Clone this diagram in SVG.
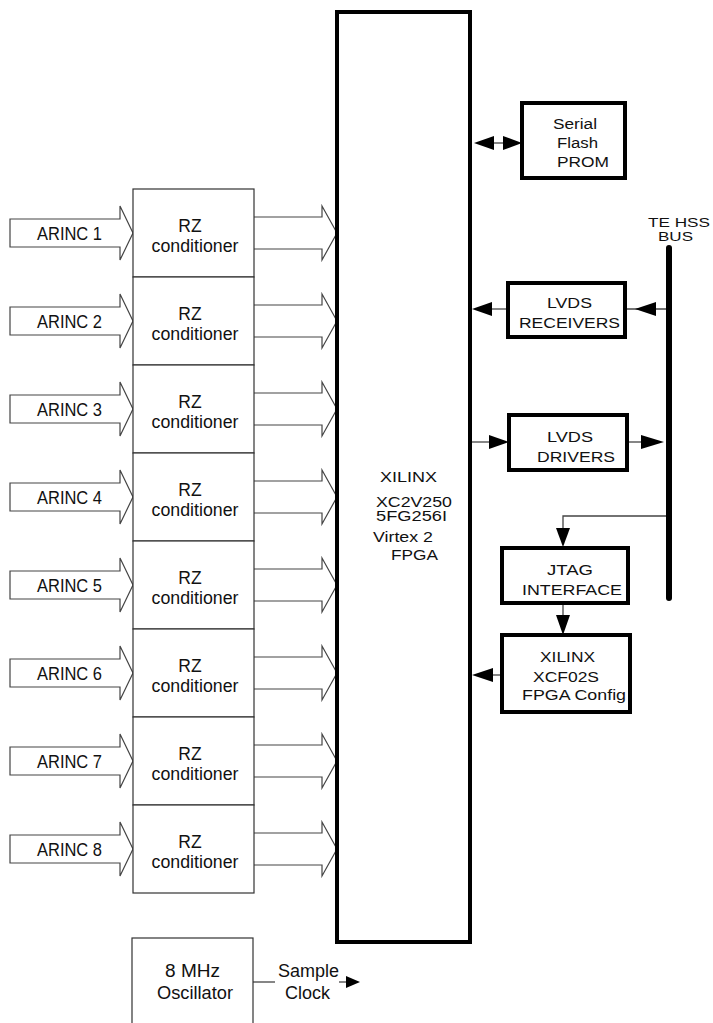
<svg xmlns="http://www.w3.org/2000/svg" width="713" height="1023" viewBox="0 0 713 1023">
<style>
text{font-family:"Liberation Sans",Arial,sans-serif;fill:#111}
.rz{fill:#fff;stroke:#333;stroke-width:1.2}
.bus{fill:none;stroke:#444;stroke-width:1.2}
.thick{fill:#fff;stroke:#000;stroke-width:4}
.ln{fill:none;stroke:#444;stroke-width:1.3}
.ah{fill:#000;stroke:none}
.t17{font-size:17.5px}
.t14{font-size:14px}
.t13{font-size:12.5px}
</style>
<defs>
<path id="inArrow" d="M10,-14 H120 V-27 L133,0 L120,27 V14 H10 Z"/>
<path id="outArrow" d="M254,-16 H322 V-27 L337,0 L322,27 V16 H254"/>
</defs>
<g id="connectors">
<g id="arinc-arrows" class="bus">
<use href="#inArrow" y="233"/><use href="#inArrow" y="321"/><use href="#inArrow" y="409"/><use href="#inArrow" y="497"/>
<use href="#inArrow" y="585"/><use href="#inArrow" y="673"/><use href="#inArrow" y="761"/><use href="#inArrow" y="849"/>
</g>
<g id="rz-out-arrows" class="bus">
<use href="#outArrow" y="233"/><use href="#outArrow" y="321"/><use href="#outArrow" y="409"/><use href="#outArrow" y="497"/>
<use href="#outArrow" y="585"/><use href="#outArrow" y="673"/><use href="#outArrow" y="761"/><use href="#outArrow" y="849"/>
</g>
<g id="prom-link">
<line class="ln" x1="490" y1="143" x2="506" y2="143"/>
<path class="ah" d="M474,143 L494,136 L494,150 Z"/>
<path class="ah" d="M522,143 L503,136 L503,150 Z"/>
</g>
<g id="receivers-links">
<line class="ln" x1="480" y1="309" x2="508" y2="309"/>
<path class="ah" d="M472,309 L492,302 L492,316 Z"/>
<line class="ln" x1="625" y1="309" x2="669" y2="309"/>
<path class="ah" d="M635,309 L656,302 L656,316 Z"/>
</g>
<g id="drivers-links">
<line class="ln" x1="470" y1="442" x2="500" y2="442"/>
<path class="ah" d="M509,442 L489,435 L489,449 Z"/>
<line class="ln" x1="627" y1="442" x2="650" y2="442"/>
<path class="ah" d="M664,442 L641,435 L641,449 Z"/>
</g>
<g id="jtag-links">
<path class="ln" d="M666,516 H563 V535" stroke="#666"/>
<path class="ah" d="M563,547 L556,528 L570,528 Z"/>
<line class="ln" x1="563" y1="603" x2="563" y2="620"/>
<path class="ah" d="M563,635 L556,615 L570,615 Z"/>
</g>
<g id="config-link">
<line class="ln" x1="485" y1="675" x2="502" y2="675"/>
<path class="ah" d="M472,675 L493,668 L493,682 Z"/>
</g>
<g id="clock-link">
<line class="ln" x1="253" y1="982" x2="275" y2="982"/>
<line class="ln" x1="339" y1="982" x2="350" y2="982"/>
<path class="ah" d="M360,982 L346,976 L346,988 Z"/>
</g>
</g>
<g id="bus">
<line x1="669" y1="248" x2="669" y2="598" stroke="#000" stroke-width="6" stroke-linecap="round"/>
<text class="t13" x="648" y="227" textLength="62" lengthAdjust="spacingAndGlyphs">TE HSS</text>
<text class="t13" x="658" y="241" textLength="35" lengthAdjust="spacingAndGlyphs">BUS</text>
</g>
<g id="fpga">
<rect class="thick" x="337" y="12" width="133" height="930" fill="none"/>
<text class="t14" x="380" y="482" textLength="57" lengthAdjust="spacingAndGlyphs">XILINX</text>
<text class="t14" x="376" y="507" textLength="76" lengthAdjust="spacingAndGlyphs">XC2V250</text>
<text class="t14" x="376" y="521" textLength="71" lengthAdjust="spacingAndGlyphs">5FG256I</text>
<text class="t14" x="373" y="542" textLength="60" lengthAdjust="spacingAndGlyphs">Virtex 2</text>
<text class="t14" x="391" y="560" textLength="47" lengthAdjust="spacingAndGlyphs">FPGA</text>
</g>
<g id="rz-blocks">
<g id="rz1"><rect class="rz" x="133" y="189" width="121" height="88"/><text class="t17" x="190" y="232" text-anchor="middle">RZ</text><text class="t17" x="195" y="252" text-anchor="middle" textLength="87" lengthAdjust="spacingAndGlyphs">conditioner</text></g>
<g id="rz2"><rect class="rz" x="133" y="277" width="121" height="88"/><text class="t17" x="190" y="320" text-anchor="middle">RZ</text><text class="t17" x="195" y="340" text-anchor="middle" textLength="87" lengthAdjust="spacingAndGlyphs">conditioner</text></g>
<g id="rz3"><rect class="rz" x="133" y="365" width="121" height="88"/><text class="t17" x="190" y="408" text-anchor="middle">RZ</text><text class="t17" x="195" y="428" text-anchor="middle" textLength="87" lengthAdjust="spacingAndGlyphs">conditioner</text></g>
<g id="rz4"><rect class="rz" x="133" y="453" width="121" height="88"/><text class="t17" x="190" y="496" text-anchor="middle">RZ</text><text class="t17" x="195" y="516" text-anchor="middle" textLength="87" lengthAdjust="spacingAndGlyphs">conditioner</text></g>
<g id="rz5"><rect class="rz" x="133" y="541" width="121" height="88"/><text class="t17" x="190" y="584" text-anchor="middle">RZ</text><text class="t17" x="195" y="604" text-anchor="middle" textLength="87" lengthAdjust="spacingAndGlyphs">conditioner</text></g>
<g id="rz6"><rect class="rz" x="133" y="629" width="121" height="88"/><text class="t17" x="190" y="672" text-anchor="middle">RZ</text><text class="t17" x="195" y="692" text-anchor="middle" textLength="87" lengthAdjust="spacingAndGlyphs">conditioner</text></g>
<g id="rz7"><rect class="rz" x="133" y="717" width="121" height="88"/><text class="t17" x="190" y="760" text-anchor="middle">RZ</text><text class="t17" x="195" y="780" text-anchor="middle" textLength="87" lengthAdjust="spacingAndGlyphs">conditioner</text></g>
<g id="rz8"><rect class="rz" x="133" y="805" width="121" height="88"/><text class="t17" x="190" y="848" text-anchor="middle">RZ</text><text class="t17" x="195" y="868" text-anchor="middle" textLength="87" lengthAdjust="spacingAndGlyphs">conditioner</text></g>
</g>
<g id="arinc-labels">
<text class="t17" x="37" y="240" textLength="65" lengthAdjust="spacingAndGlyphs">ARINC 1</text>
<text class="t17" x="37" y="328" textLength="65" lengthAdjust="spacingAndGlyphs">ARINC 2</text>
<text class="t17" x="37" y="416" textLength="65" lengthAdjust="spacingAndGlyphs">ARINC 3</text>
<text class="t17" x="37" y="504" textLength="65" lengthAdjust="spacingAndGlyphs">ARINC 4</text>
<text class="t17" x="37" y="592" textLength="65" lengthAdjust="spacingAndGlyphs">ARINC 5</text>
<text class="t17" x="37" y="680" textLength="65" lengthAdjust="spacingAndGlyphs">ARINC 6</text>
<text class="t17" x="37" y="768" textLength="65" lengthAdjust="spacingAndGlyphs">ARINC 7</text>
<text class="t17" x="37" y="856" textLength="65" lengthAdjust="spacingAndGlyphs">ARINC 8</text>
</g>
<g id="serial-prom">
<rect class="thick" x="522" y="103" width="103" height="75"/>
<text class="t14" x="553" y="129" textLength="44" lengthAdjust="spacingAndGlyphs">Serial</text>
<text class="t14" x="557" y="148" textLength="41" lengthAdjust="spacingAndGlyphs">Flash</text>
<text class="t14" x="557" y="167" textLength="52" lengthAdjust="spacingAndGlyphs">PROM</text>
</g>
<g id="lvds-receivers">
<rect class="thick" x="508" y="283" width="117" height="54"/>
<text class="t14" x="547" y="308" textLength="45" lengthAdjust="spacingAndGlyphs">LVDS</text>
<text class="t14" x="519" y="328" textLength="101" lengthAdjust="spacingAndGlyphs">RECEIVERS</text>
</g>
<g id="lvds-drivers">
<rect class="thick" x="509" y="415" width="118" height="55"/>
<text class="t14" x="547" y="442" textLength="46" lengthAdjust="spacingAndGlyphs">LVDS</text>
<text class="t14" x="537" y="462" textLength="78" lengthAdjust="spacingAndGlyphs">DRIVERS</text>
</g>
<g id="jtag">
<rect class="thick" x="502" y="548" width="126" height="55"/>
<text class="t14" x="547" y="575" textLength="46" lengthAdjust="spacingAndGlyphs">JTAG</text>
<text class="t14" x="522" y="595" textLength="100" lengthAdjust="spacingAndGlyphs">INTERFACE</text>
</g>
<g id="xcf02s">
<rect class="thick" x="502" y="635" width="128" height="77"/>
<text class="t14" x="540" y="662" textLength="55" lengthAdjust="spacingAndGlyphs">XILINX</text>
<text class="t14" x="533" y="682" textLength="66" lengthAdjust="spacingAndGlyphs">XCF02S</text>
<text class="t14" x="522" y="700" textLength="104" lengthAdjust="spacingAndGlyphs">FPGA Config</text>
</g>
<g id="oscillator">
<rect class="rz" x="132" y="938" width="121" height="95"/>
<text class="t17" x="165" y="977" textLength="55" lengthAdjust="spacingAndGlyphs">8 MHz</text>
<text class="t17" x="157" y="999" textLength="76" lengthAdjust="spacingAndGlyphs">Oscillator</text>
<text class="t17" x="278" y="977" textLength="61" lengthAdjust="spacingAndGlyphs">Sample</text>
<text class="t17" x="285" y="999" textLength="45" lengthAdjust="spacingAndGlyphs">Clock</text>
</g>
</svg>
